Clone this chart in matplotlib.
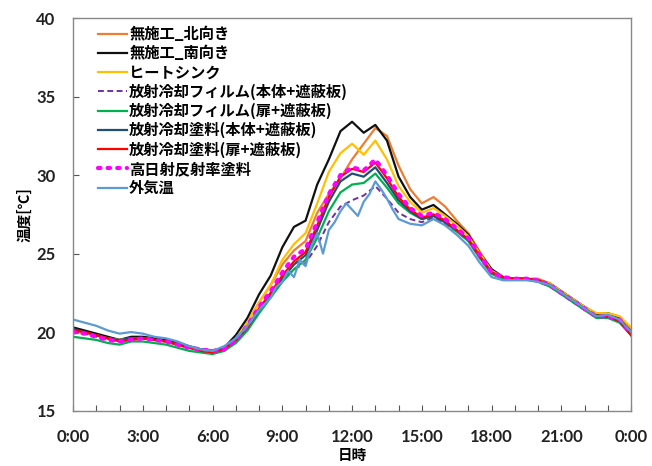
import numpy as np
import matplotlib
matplotlib.use("Agg")
import matplotlib.pyplot as plt
from matplotlib.ticker import MultipleLocator

plt.rcParams['font.family'] = ['Noto Sans CJK JP', 'DejaVu Sans']

# time grid (hours) for all measured series except outside air
t = np.arange(0, 24.01, 0.5)

labels = ["無施工_北向き", "無施工_南向き", "ヒートシンク",
          "放射冷却フィルム(本体+遮蔽板)", "放射冷却フィルム(扉+遮蔽板)",
          "放射冷却塗料(本体+遮蔽板)", "放射冷却塗料(扉+遮蔽板)",
          "高日射反射率塗料", "外気温"]

north = [20.1, 20.0, 19.8, 19.6, 19.5, 19.6, 19.6, 19.5, 19.4, 19.2, 19.0, 18.9, 18.8, 18.9,
         19.6, 20.6, 21.9, 23.0, 24.3, 25.2, 25.8, 27.6, 28.8, 29.8, 31.0, 32.0, 33.0, 32.5,
         30.6, 29.1, 28.2, 28.6, 28.0, 27.1, 26.3, 25.1, 24.0, 23.5, 23.4, 23.4, 23.4, 23.1,
         22.6, 22.1, 21.6, 21.2, 21.2, 21.0, 20.2]
south = [20.3, 20.1, 19.9, 19.7, 19.5, 19.7, 19.7, 19.6, 19.5, 19.3, 19.1, 18.9, 18.8, 19.0,
         19.8, 20.9, 22.4, 23.6, 25.4, 26.7, 27.1, 29.4, 31.0, 32.8, 33.4, 32.7, 33.2, 32.2,
         29.9, 28.6, 27.8, 28.1, 27.5, 26.9, 26.2, 25.0, 24.0, 23.5, 23.4, 23.4, 23.3, 23.1,
         22.6, 22.1, 21.6, 21.1, 21.2, 20.9, 20.0]
heatsink = [20.0, 19.9, 19.8, 19.6, 19.5, 19.6, 19.6, 19.5, 19.4, 19.2, 19.0, 18.9, 18.8, 18.9,
            19.6, 20.6, 21.9, 23.0, 24.6, 25.6, 26.3, 28.2, 30.2, 31.4, 32.0, 31.3, 32.2, 31.0,
            29.3, 28.3, 27.6, 27.9, 27.4, 26.8, 26.1, 25.0, 23.9, 23.5, 23.4, 23.4, 23.3, 23.1,
            22.6, 22.1, 21.6, 21.2, 21.2, 21.0, 20.3]
film_body = [20.0, 19.9, 19.7, 19.5, 19.4, 19.5, 19.6, 19.5, 19.4, 19.2, 19.0, 18.9, 18.8, 18.9,
             19.4, 20.2, 21.3, 22.3, 23.3, 24.0, 24.4, 25.5, 27.0, 28.0, 28.4, 28.7, 29.3, 28.5,
             27.6, 27.2, 27.0, 27.3, 26.9, 26.4, 25.8, 24.7, 23.7, 23.4, 23.4, 23.4, 23.2, 22.9,
             22.4, 21.9, 21.4, 21.0, 21.0, 20.7, 19.9]
film_door = [19.7, 19.6, 19.5, 19.3, 19.2, 19.4, 19.4, 19.3, 19.2, 19.0, 18.8, 18.7, 18.6, 18.8,
             19.3, 20.1, 21.2, 22.2, 23.2, 24.0, 24.6, 26.0, 27.7, 28.9, 29.4, 29.5, 30.1, 29.2,
             28.2, 27.6, 27.2, 27.4, 27.0, 26.4, 25.8, 24.7, 23.7, 23.4, 23.4, 23.4, 23.2, 22.9,
             22.4, 21.9, 21.4, 20.9, 20.9, 20.6, 19.8]
paint_body = [20.2, 20.0, 19.8, 19.6, 19.5, 19.6, 19.6, 19.5, 19.4, 19.2, 19.0, 18.9, 18.8, 19.0,
              19.5, 20.3, 21.4, 22.4, 23.4, 24.3, 24.9, 26.5, 28.3, 29.6, 30.1, 29.9, 30.5, 29.5,
              28.4, 27.7, 27.2, 27.4, 27.0, 26.5, 25.9, 24.8, 23.8, 23.5, 23.4, 23.4, 23.3, 23.0,
              22.5, 22.0, 21.5, 21.0, 21.0, 20.7, 19.8]
paint_door = [20.1, 20.0, 19.8, 19.6, 19.4, 19.5, 19.6, 19.5, 19.4, 19.2, 19.0, 18.8, 18.7, 18.9,
              19.5, 20.3, 21.5, 22.5, 23.6, 24.5, 25.1, 26.8, 28.6, 29.9, 30.4, 30.2, 30.8, 29.8,
              28.6, 27.8, 27.3, 27.5, 27.1, 26.5, 25.9, 24.8, 23.8, 23.5, 23.4, 23.4, 23.3, 23.0,
              22.5, 22.0, 21.5, 21.0, 21.0, 20.7, 19.8]
high_reflect = [20.0, 19.9, 19.7, 19.5, 19.4, 19.5, 19.6, 19.5, 19.4, 19.2, 19.0, 18.9, 18.8, 18.9,
                19.5, 20.4, 21.6, 22.6, 23.8, 24.8, 25.3, 27.0, 28.8, 30.0, 30.5, 30.3, 31.0, 30.0,
                28.8, 27.9, 27.4, 27.6, 27.2, 26.6, 26.0, 24.9, 23.8, 23.5, 23.4, 23.4, 23.3, 23.0,
                22.5, 22.0, 21.5, 21.0, 21.0, 20.8, 19.9]

t_air = [0, 0.5, 1, 1.5, 2, 2.5, 3, 3.5, 4, 4.5, 5, 5.5, 6, 6.5, 7, 7.5, 8, 8.5,
         8.75, 9, 9.25, 9.5, 9.75, 10, 10.25, 10.5, 10.75, 11, 11.25, 11.5, 11.75, 12,
         12.25, 12.5, 12.75, 13, 13.25, 13.5, 13.75, 14,
         14.5, 15, 15.5, 16, 16.5, 17, 17.5, 18, 18.5, 19, 19.5, 20, 20.5, 21, 21.5, 22,
         22.5, 23, 23.5, 24]
air = [20.8, 20.6, 20.4, 20.1, 19.9, 20.0, 19.9, 19.7, 19.6, 19.4, 19.1, 18.9, 18.8, 19.1,
       19.6, 20.4, 21.4, 22.2,
       22.9, 23.2, 23.9, 23.5, 24.6, 24.2, 25.5, 26.3, 25.0, 26.5, 27.0, 27.7, 28.2, 27.8,
       27.4, 28.3, 28.8, 29.6, 29.1, 28.5, 27.8, 27.2,
       26.9, 26.8, 27.2, 26.8, 26.2, 25.5, 24.4, 23.5, 23.3, 23.3, 23.3, 23.2, 23.0, 22.5,
       22.0, 21.5, 21.0, 21.1, 20.8, 20.0]

xticks = [0, 3, 6, 9, 12, 15, 18, 21, 24]
xticklabels = ["0:00", "3:00", "6:00", "9:00", "12:00", "15:00", "18:00", "21:00", "0:00"]
yticks = [15, 20, 25, 30, 35, 40]

fig = plt.figure(figsize=(6.52, 4.66), dpi=100)
ax = fig.add_axes([0.112, 0.119, 0.856, 0.842])

lw = 1.6
ax.plot(t, north, color='#ED7D31', lw=lw, label=labels[0])
ax.plot(t, south, color='#111111', lw=lw, label=labels[1])
ax.plot(t, heatsink, color='#FFC000', lw=lw, label=labels[2])
ax.plot(t, film_body, color='#7030A0', lw=1.4, ls=(0, (3, 1.8)), label=labels[3])
ax.plot(t, film_door, color='#00B050', lw=lw, label=labels[4])
ax.plot(t, paint_body, color='#1F4E79', lw=lw, label=labels[5])
ax.plot(t, paint_door, color='#FF0000', lw=lw, label=labels[6])
ax.plot(t, high_reflect, color='#FF00FF', lw=3.0, ls=(0, (0.6, 1.7)),
        dash_capstyle='round', label=labels[7])
ax.plot(t_air, air, color='#5B9BD5', lw=lw, label=labels[8])

ax.set_xlim(0, 24)
ax.set_ylim(15, 40)
ax.set_xticks(xticks)
ax.set_xticklabels(xticklabels)
ax.xaxis.set_minor_locator(MultipleLocator(1))
ax.set_yticks(yticks)

ax.tick_params(axis='both', which='both', direction='in', color='#555555')
ax.tick_params(axis='both', which='major', length=4, width=0.8)
ax.tick_params(axis='x', which='major', pad=13)
ax.tick_params(axis='y', which='major', pad=12.5)
ax.tick_params(axis='x', which='minor', length=4, width=0.8)
for lab in ax.get_xticklabels() + ax.get_yticklabels():
    lab.set_family(['Lato', 'DejaVu Sans'])
    lab.set_fontweight('bold')
    lab.set_fontsize(12)
    lab.set_color('#222222')

for s in ax.spines.values():
    s.set_color('#888888')
    s.set_linewidth(1.0)

ax.set_xlabel("日時", fontsize=10.5, fontweight='bold', labelpad=2)
ax.set_ylabel("温度[℃]", fontsize=10.5, fontweight='bold', labelpad=3)

leg = ax.legend(loc='upper left', bbox_to_anchor=(0.039, 0.987), frameon=False,
                prop={'family': ['Noto Sans CJK JP', 'DejaVu Sans'], 'weight': 'bold', 'size': 11},
                handlelength=1.9, handletextpad=0.15, labelspacing=0.2, borderaxespad=0,
                borderpad=0.2)

fig.savefig("out.png", dpi=100)
